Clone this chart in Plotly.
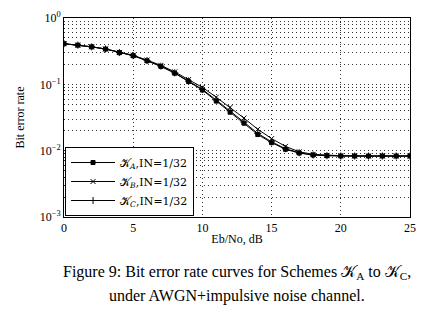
import plotly.graph_objects as go

ebno = list(range(0, 26))
ber_a = [0.41, 0.39, 0.367, 0.34, 0.30, 0.27, 0.226, 0.186, 0.147, 0.110, 0.082, 0.056, 0.038, 0.026,
         0.0175, 0.0132, 0.0105, 0.0092, 0.0086, 0.0084, 0.0083, 0.0083, 0.0083, 0.0083, 0.0083, 0.0083]
ber_b = [0.41, 0.39, 0.368, 0.342, 0.303, 0.274, 0.232, 0.193, 0.154, 0.118, 0.090, 0.064, 0.045, 0.031,
         0.021, 0.0152, 0.0116, 0.0096, 0.0088, 0.0085, 0.0084, 0.0083, 0.0083, 0.0083, 0.0083, 0.0083]
ber_c = [0.41, 0.39, 0.367, 0.341, 0.301, 0.271, 0.228, 0.188, 0.149, 0.112, 0.084, 0.058, 0.040, 0.027,
         0.0182, 0.0136, 0.0107, 0.0093, 0.0086, 0.0084, 0.0083, 0.0083, 0.0083, 0.0083, 0.0083, 0.0083]
names = ["𝒦<sub><i>A</i></sub>,IN=1/32", "𝒦<sub><i>B</i></sub>,IN=1/32", "𝒦<sub><i>C</i></sub>,IN=1/32"]
symbols = ["square", "x-thin", "cross-thin"]
ytick_vals = [1e-3, 1e-2, 1e-1, 1]
ytick_text = ["10<sup>−3</sup>", "10<sup>−2</sup>", "10<sup>−1</sup>", "10<sup>0</sup>"]
xtick_vals = [0, 5, 10, 15, 20, 25]

FONT = "Liberation Serif"
GRID = dict(gridcolor="#333333", griddash="1px,3px", gridwidth=1)
fig = go.Figure()
for ys, nm, sym in zip([ber_a, ber_b, ber_c], names, symbols):
    fig.add_trace(go.Scatter(
        x=ebno, y=ys, name=nm, mode="lines+markers",
        line=dict(color="black", width=1),
        marker=dict(symbol=sym, size=4 if sym == "square" else 5, color="black",
                    line=dict(color="black", width=1)),
    ))

fig.update_layout(
    width=424, height=315,
    margin=dict(l=64, r=14, t=18, b=98, autoexpand=False),
    paper_bgcolor="white", plot_bgcolor="white",
    font=dict(family=FONT, size=12, color="black"),
    showlegend=True,
    legend=dict(x=0.003, y=0.005, xanchor="left", yanchor="bottom",
                bgcolor="white", bordercolor="black", borderwidth=1,
                font=dict(family="DejaVu Serif", size=11), tracegroupgap=0,
                itemwidth=44),
)
fig.update_xaxes(
    range=[0, 25], tickvals=xtick_vals, showline=True, linecolor="black", linewidth=1,
    mirror=True, ticks="", showgrid=True, zeroline=False, **GRID,
    title=dict(text="Eb/No, dB", font=dict(family=FONT, size=12), standoff=0),
    tickfont=dict(family=FONT, size=12),
)
fig.update_yaxes(
    type="log", range=[-3, 0], tickvals=ytick_vals, ticktext=ytick_text,
    showline=True, linecolor="black", linewidth=1, mirror=True, ticks="",
    showgrid=True, **GRID,
    minor=dict(showgrid=True, dtick="D1", **GRID),
    title=dict(text="Bit error rate", font=dict(family=FONT, size=12), standoff=12),
    tickfont=dict(family=FONT, size=12),
)
fig.add_annotation(text="Figure 9: Bit error rate curves for Schemes 𝒦<sub>A</sub> to 𝒦<sub>C</sub>,",
                   xref="paper", yref="paper", x=0.5, y=-0.28, xanchor="center", yanchor="middle",
                   showarrow=False, font=dict(family=FONT, size=16))
fig.add_annotation(text="under AWGN+impulsive noise channel.",
                   xref="paper", yref="paper", x=0.5, y=-0.395, xanchor="center", yanchor="middle",
                   showarrow=False, font=dict(family=FONT, size=16))
fig.write_html("out.html", config={"displayModeBar": False},
               post_script="document.body.style.margin='0';")
